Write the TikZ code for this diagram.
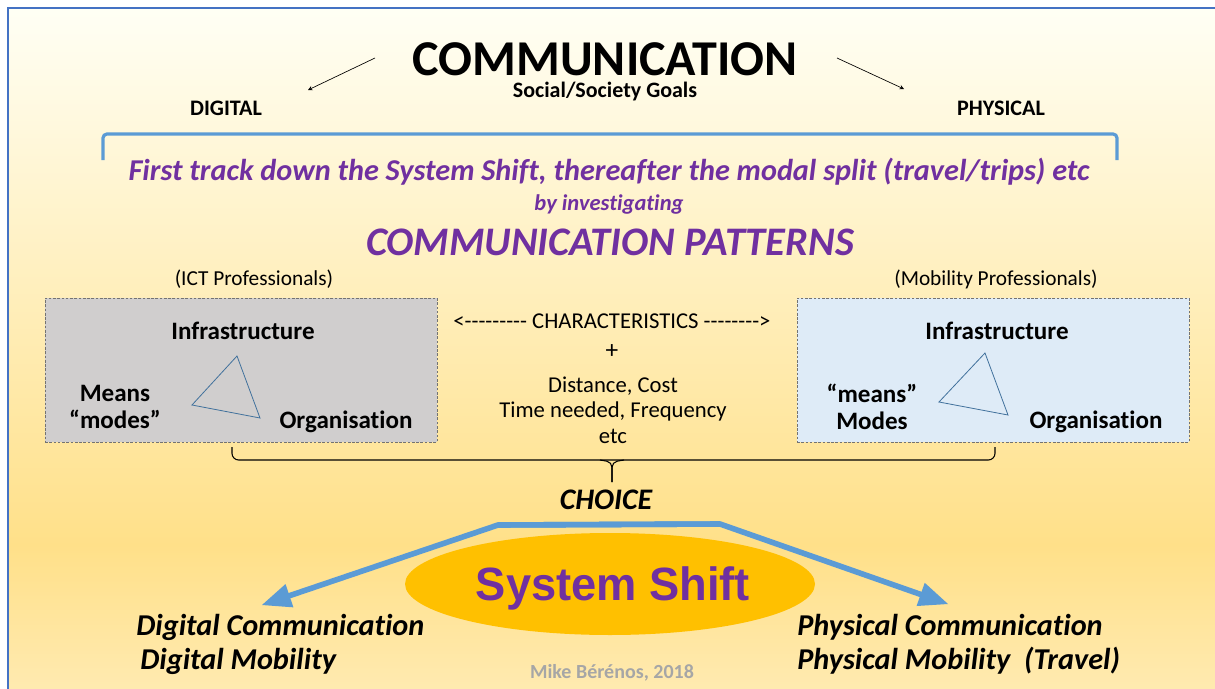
\documentclass[tikz,border=0pt]{standalone}
\usepackage{fontspec}
\setmainfont{Carlito}[Ligatures=NoCommon]
\newfontfamily\shiftfont{Liberation Sans}
\usetikzlibrary{positioning,shapes,arrows}
\definecolor{framecol}{HTML}{4472C4}
\definecolor{paleblue}{HTML}{5B9BD5}
\definecolor{purp}{HTML}{7030A0}
\definecolor{amber}{HTML}{FFC000}
\definecolor{boxgray}{HTML}{D0CECE}
\definecolor{boxblue}{HTML}{DEEBF7}
\definecolor{trigcol}{HTML}{41719C}
\definecolor{credit}{HTML}{A6A6A6}
\tikzstyle{plain} = [inner sep=0pt, text centered]
\tikzstyle{heading} = [plain, font=\bfseries\fontsize{16.6}{18}\selectfont]
\tikzstyle{purpline} = [plain, text=purp, font=\bfseries\itshape]
\tikzstyle{profbox} = [rectangle, draw=black!55, dashed, dash pattern=on 2pt off 1.2pt, line width=0.5pt, minimum width=294pt, minimum height=108pt]
\tikzstyle{corner} = [plain, font=\bfseries\fontsize{18.8}{21}\selectfont]
\tikzstyle{midtext} = [plain, font=\fontsize{17}{19}\selectfont]
\tikzstyle{profs} = [plain, font=\fontsize{16}{18}\selectfont]
\tikzstyle{result} = [plain, anchor=west, font=\bfseries\itshape\fontsize{22.7}{25}\selectfont]
\tikzstyle{pointer} = [->, >=stealth, line width=0.5pt]
\tikzstyle{shiftarrow} = [->, >=triangle 45, paleblue, line width=4.2pt, line join=round]

\begin{document}
\begin{tikzpicture}[x=0.75pt,y=-0.75pt]
	\useasboundingbox (0,0) rectangle (1215,689);
	% backdrop, light at the top and warm yellow further down
	\shade[top color=yellow!4!white, bottom color={rgb,255:red,255;green,224;blue,137}] (8,8) rectangle (1215,545);
	\shade[top color={rgb,255:red,255;green,224;blue,137}, bottom color={rgb,255:red,255;green,234;blue,176}] (8,545) rectangle (1215,689);
	\draw[framecol, line width=1.6pt] (8,689) -- (8,8) -- (1215,8);

	% title and the two directions
	\node (comm) [plain, anchor=base, text depth=0pt, font=\bfseries\fontsize{37.6}{40}\selectfont] at (605,75) {COMMUNICATION};
	\node (goals) [plain, anchor=base, text height=11pt, font=\bfseries\fontsize{16.5}{18}\selectfont] at (605,97) {Social/Society Goals};
	\node (digital) [heading] at (226,108) {DIGITAL};
	\node (physical) [heading] at (1001,108) {PHYSICAL};
	\coordinate (dfrom) at (375,58);
	\coordinate (dto) at (308,90);
	\coordinate (pfrom) at (837,58);
	\coordinate (pto) at (904,89);
	\draw [pointer] (dfrom) -- (dto);
	\draw [pointer] (pfrom) -- (pto);

	% blue bracket over the purple lines
	\draw[paleblue, line width=2.4pt, rounded corners=3pt] (103,160) -- (103,134) -- (1117,134) -- (1117,160);
	\node (track) [purpline, font=\bfseries\itshape\fontsize{22.7}{25}\selectfont] at (609,172) {First track down the System Shift, thereafter the modal split (travel/trips) etc};
	\node (invest) [purpline, font=\bfseries\itshape\fontsize{16.9}{18}\selectfont] at (609,204) {by investigating};
	\node (patterns) [purpline, font=\bfseries\itshape\fontsize{30.4}{33}\selectfont] at (610,242) {COMMUNICATION PATTERNS};

	% the two professional fields
	\node (ictbox) [profbox, fill=boxgray] at (241,370) {};
	\node (mobbox) [profbox, fill=boxblue] at (993,370) {};
	\node (ict) [profs] at (254,279) {(ICT Professionals)};
	\node (mob) [profs] at (996,279) {(Mobility Professionals)};

	\node (infl) [corner] at (243,331) {Infrastructure};
	\node (meansl) [corner, align=center] at (115,407) {Means\\[-1pt]``modes''};
	\node (orgl) [corner] at (346,422) {Organisation};
	\draw[trigcol, line width=0.6pt] (237,356) -- (260,418) -- (192,405) -- cycle;

	\node (infr) [corner] at (997,331) {Infrastructure};
	\node (meansr) [corner, align=center] at (872,407) {``means''\\[-1pt]Modes};
	\node (orgr) [corner] at (1096,422) {Organisation};
	\draw[trigcol, line width=0.6pt] (985,353) -- (1008,415) -- (939,402) -- cycle;

	% characteristics in between
	\node (chars) [midtext] at (612,321) {<\mbox{-}\mbox{-}\mbox{-}\mbox{-}\mbox{-}\mbox{-}\mbox{-}\mbox{-}\mbox{-} CHARACTERISTICS \mbox{-}\mbox{-}\mbox{-}\mbox{-}\mbox{-}\mbox{-}\mbox{-}\mbox{-}>};
	\node (plus) [plain, font=\fontsize{19}{21}\selectfont] at (612,352) {+};
	\node (dist) [midtext, align=center] at (613,410) {Distance, Cost\\[0pt]Time needed, Frequency\\[0pt]etc};

	% brace collecting both sides
	\coordinate (bl) at (232,447);
	\coordinate (br) at (995,447);
	\coordinate (btip) at (612,482);
	\draw[line width=0.8pt, rounded corners=5pt] (bl) -- (232,460) -- (612,460) -- (995,460) -- (br);
	\draw[line width=0.8pt, rounded corners=4pt] (600,460) -- (612,462) -- (btip);
	\draw[line width=0.8pt, rounded corners=4pt] (624,460) -- (612,462) -- (btip);
	\node (choice) [plain, font=\bfseries\itshape\fontsize{22.4}{24}\selectfont] at (606,500) {CHOICE};

	% system shift
	\fill[amber] (610,584) ellipse [x radius=205, y radius=51];
	\node (shifttxt) [plain, anchor=base, text=purp, font=\shiftfont\bfseries\fontsize{35}{37}\selectfont] at (613,600) {\scalebox{0.97}[1]{System Shift}};
	\coordinate (kl) at (498,525);
	\coordinate (kr) at (720,524);
	\coordinate (leftend) at (262,605);
	\coordinate (rightend) at (948,604);
	\draw [shiftarrow] (kr) -- (kl) -- (leftend);
	\draw [shiftarrow] (kl) -- (kr) -- (rightend);

	% outcomes
	\node (dcomm) [result] at (136,627) {Digital Communication};
	\node (dmob) [result] at (140,661) {Digital Mobility};
	\node (pcomm) [result] at (797,627) {Physical Communication};
	\node (pmob) [result] at (797,661) {Physical Mobility\ \ (Travel)};
	\node (credit) [plain, text=credit, font=\bfseries\fontsize{15}{17}\selectfont] at (612,673) {Mike Bérénos, 2018};
\end{tikzpicture}
\end{document}
